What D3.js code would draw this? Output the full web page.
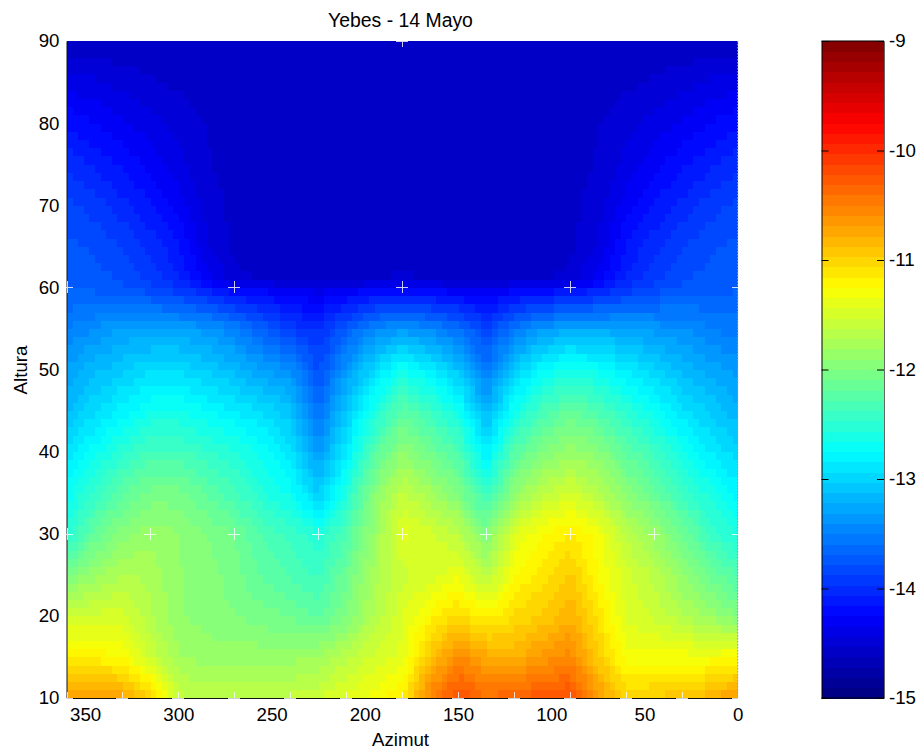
<!DOCTYPE html>
<html><head><meta charset="utf-8">
<script src="https://cdnjs.cloudflare.com/ajax/libs/d3/7.8.5/d3.min.js"></script>
<style>html,body{margin:0;background:#fff}svg{display:block}text{font-family:"Liberation Sans",Arial,sans-serif;fill:#000}</style>
</head><body><div id="chart"></div>
<script>
const titleText = "Yebes - 14 Mayo", xLabel = "Azimut", yLabel = "Altura";
const xTicks = [350,300,250,200,150,100,50,0];
const yTicks = [90,80,70,60,50,40,30,20,10];
const cbTicks = [-9,-10,-11,-12,-13,-14,-15];
const azimuths = [360,345,330,315,300,285,270,255,240,225,210,195,180,165,150,135,120,105,90,75,60,45,30,15,0];
const alt10 = [-10.65,-10.65,-10.7,-11.0,-11.6,-11.65,-11.65,-11.65,-11.6,-11.55,-11.4,-11.3,-11.15,-10.5,-10.2,-10.4,-10.3,-10.25,-10.2,-10.65,-11.0,-10.95,-10.9,-10.8,-10.65];
const alt15 = [-11.15,-11.2,-11.25,-11.55,-11.8,-11.85,-11.85,-11.85,-11.85,-11.8,-11.65,-11.5,-11.4,-10.9,-10.55,-10.75,-10.8,-10.65,-10.55,-10.95,-11.3,-11.3,-11.3,-11.3,-11.25];
const alt20 = [-11.55,-11.5,-11.5,-11.7,-11.9,-11.95,-12.0,-12.05,-12.1,-12.2,-12.0,-11.7,-11.45,-11.2,-11.05,-11.2,-11.05,-10.95,-10.8,-11.1,-11.45,-11.55,-11.7,-11.85,-12.0];
const alt25 = [-12.0,-11.85,-11.7,-11.75,-11.9,-11.95,-12.05,-12.2,-12.3,-12.4,-12.1,-11.75,-11.55,-11.5,-11.35,-11.7,-11.25,-11.1,-10.95,-11.25,-11.5,-11.65,-11.9,-12.1,-12.3];
const alt30 = [-12.55,-12.15,-11.95,-11.85,-11.9,-12.0,-12.1,-12.3,-12.4,-12.55,-12.3,-11.85,-11.4,-11.5,-11.65,-12.0,-11.45,-11.25,-11.15,-11.3,-11.65,-11.85,-12.1,-12.4,-12.6];
const alt35 = [-12.7,-12.45,-12.2,-12.05,-12.05,-12.2,-12.35,-12.55,-12.7,-13.05,-12.55,-11.95,-11.6,-11.8,-12.0,-12.45,-11.9,-11.65,-11.5,-11.7,-11.95,-12.15,-12.4,-12.6,-12.8];
const alt40 = [-12.9,-12.7,-12.5,-12.35,-12.35,-12.45,-12.55,-12.7,-12.9,-13.35,-12.85,-12.25,-11.9,-12.1,-12.3,-12.85,-12.25,-12.0,-11.85,-11.95,-12.2,-12.4,-12.65,-12.85,-13.0];
const alt45 = [-13.15,-12.95,-12.8,-12.65,-12.65,-12.75,-12.85,-12.95,-13.1,-13.6,-13.05,-12.6,-12.2,-12.4,-12.65,-13.2,-12.65,-12.35,-12.15,-12.3,-12.5,-12.7,-12.9,-13.05,-13.2];
const alt50 = [-13.3,-13.15,-13.05,-12.95,-12.95,-13.05,-13.15,-13.3,-13.4,-13.8,-13.35,-12.95,-12.65,-12.85,-13.1,-13.55,-13.05,-12.75,-12.6,-12.7,-12.85,-13.0,-13.15,-13.25,-13.35];
const alt55 = [-13.5,-13.4,-13.3,-13.3,-13.3,-13.35,-13.5,-13.7,-13.9,-14.0,-13.7,-13.45,-13.35,-13.45,-13.6,-13.85,-13.55,-13.35,-13.25,-13.25,-13.3,-13.35,-13.4,-13.5,-13.55];
const alt60 = [-13.7,-13.72,-13.75,-13.85,-13.95,-14.1,-14.25,-14.3,-14.35,-14.4,-14.35,-14.3,-14.25,-14.3,-14.35,-14.4,-14.3,-14.25,-14.25,-14.1,-13.95,-13.85,-13.75,-13.72,-13.7];
const alt61 = [-13.7,-13.74,-13.8,-13.9,-14.05,-14.3,-14.5,-14.55,-14.56,-14.56,-14.56,-14.55,-14.5,-14.55,-14.56,-14.56,-14.56,-14.55,-14.5,-14.3,-14.05,-13.9,-13.8,-13.74,-13.7];
const alt65 = [-13.75,-13.8,-13.88,-14.0,-14.15,-14.42,-14.56,-14.58,-14.58,-14.58,-14.58,-14.58,-14.58,-14.58,-14.58,-14.58,-14.58,-14.58,-14.56,-14.42,-14.15,-14.0,-13.88,-13.8,-13.75];
const alt70 = [-13.85,-13.92,-14.03,-14.15,-14.3,-14.48,-14.57,-14.58,-14.58,-14.58,-14.58,-14.58,-14.58,-14.58,-14.58,-14.58,-14.58,-14.58,-14.57,-14.48,-14.3,-14.15,-14.03,-13.92,-13.85];
const alt75 = [-14.0,-14.08,-14.18,-14.28,-14.4,-14.52,-14.57,-14.58,-14.58,-14.58,-14.58,-14.58,-14.58,-14.58,-14.58,-14.58,-14.58,-14.58,-14.57,-14.52,-14.4,-14.28,-14.18,-14.08,-14.0];
const alt80 = [-14.18,-14.25,-14.33,-14.4,-14.47,-14.54,-14.57,-14.58,-14.58,-14.58,-14.58,-14.58,-14.58,-14.58,-14.58,-14.58,-14.58,-14.58,-14.57,-14.54,-14.47,-14.4,-14.33,-14.25,-14.18];
const alt85 = [-14.38,-14.42,-14.47,-14.52,-14.55,-14.57,-14.58,-14.58,-14.58,-14.58,-14.58,-14.58,-14.58,-14.58,-14.58,-14.58,-14.58,-14.58,-14.58,-14.57,-14.55,-14.52,-14.47,-14.42,-14.38];
const alt90 = [-14.62,-14.62,-14.61,-14.6,-14.6,-14.59,-14.58,-14.58,-14.58,-14.58,-14.58,-14.58,-14.58,-14.58,-14.58,-14.58,-14.58,-14.58,-14.58,-14.59,-14.6,-14.6,-14.61,-14.62,-14.62];
const altitudes = [10,15,20,25,30,35,40,45,50,55,60,61,65,70,75,80,85,90];
const rows = [alt10,alt15,alt20,alt25,alt30,alt35,alt40,alt45,alt50,alt55,alt60,alt61,alt65,alt70,alt75,alt80,alt85,alt90];
const samplesAlt10 = [360,330,300,270,240,210,180,150,120,90,60,30,0];
const samplesAlt30 = [360,315,270,225,180,135,90,45,0];
const samplesAlt60 = [360,270,180,90,0];
const samplesAlt90 = [180];
const shadeAz = d3.range(0,120).map(i=>i*3), shadeAlt = d3.range(10,90);

const W=919,H=749,m={l:66.5,r:737.7,t:41,b:698},cb={l:821.5,r:884};
const svg=d3.select("#chart").append("svg").attr("width",W).attr("height",H);
const x=d3.scaleLinear().domain([360,0]).range([m.l,m.r]);
const y=d3.scaleLinear().domain([10,90]).range([m.b,m.t]);
const c=d3.scaleLinear().domain([-15,-9]).range([m.b,m.t]);
const ramp=v=>Math.max(0,Math.min(1,v));
const jet=t=>d3.rgb(255*ramp(1.5-Math.abs(4*t-3)),255*ramp(1.5-Math.abs(4*t-2)),255*ramp(1.5-Math.abs(4*t-1))).formatHex();
const levels=d3.range(64);
const palette=levels.map(i=>jet((i+0.5)/64));
const colour=d3.scaleQuantize().domain([-15,-9]).range(palette);
function sample(az,alt){
  const azAsc=azimuths.slice().reverse();
  let i=Math.min(azAsc.length-2,d3.bisectRight(azAsc,az)-1), j=Math.min(altitudes.length-2,d3.bisectRight(altitudes,alt)-1);
  const fx=(az-azAsc[i])/(azAsc[i+1]-azAsc[i]), fy=(alt-altitudes[j])/(altitudes[j+1]-altitudes[j]);
  const ci=azimuths.length-1-i, cn=ci-1;
  const a=d3.interpolateNumber(rows[j][ci],rows[j][cn])(fx), b=d3.interpolateNumber(rows[j+1][ci],rows[j+1][cn])(fx);
  return a+(b-a)*fy;
}
const cells=shadeAlt.flatMap(alt=>shadeAz.map(az=>({az,alt})));
svg.append("g").attr("shape-rendering","crispEdges").selectAll("rect").data(cells).join("rect")
  .attr("x",d=>x(d.az+3)).attr("y",d=>y(d.alt+1))
  .attr("width",d=>x(d.az)-x(d.az+3)+0.5).attr("height",d=>y(d.alt)-y(d.alt+1)+0.5)
  .attr("fill",d=>colour(sample(d.az+1.5,d.alt+0.5)));

// axes
const ax=svg.append("g").attr("transform",`translate(0,${m.b})`).call(d3.axisBottom(x).tickValues(xTicks).tickSize(0).tickPadding(8));
ax.select(".domain").attr("stroke","#111");
ax.selectAll("text").attr("font-size",18.7).attr("dy","0.82em");
const ay=svg.append("g").attr("transform",`translate(${m.l},0)`).call(d3.axisLeft(y).tickValues(yTicks).tickSize(0).tickPadding(7));
ay.select(".domain").attr("stroke","#111");
ay.selectAll("text").attr("font-size",18.7);
svg.append("line").attr("x1",m.r).attr("x2",m.r).attr("y1",m.t).attr("y2",m.b).attr("stroke","#999").attr("stroke-dasharray","1.5,1.5");

// sample marks
const marks=[[10,samplesAlt10],[30,samplesAlt30],[60,samplesAlt60],[90,samplesAlt90]].flatMap(([alt,list])=>list.map(az=>({az,alt})));
const mk=svg.append("g").attr("stroke","#fff").attr("stroke-opacity",0.8).attr("shape-rendering","crispEdges");
mk.selectAll("path").data(marks).join("path")
  .attr("d",d=>{const px=Math.round(x(d.az)),py=Math.round(y(d.alt));return `M${px-6},${py}H${px+6}M${px},${py-6}V${py+6}`});

// colour bar
const cbBand=d3.scaleBand().domain(levels).range([m.b,m.t]);
svg.append("g").attr("shape-rendering","crispEdges").selectAll("rect").data(levels).join("rect")
  .attr("x",cb.l).attr("width",cb.r-cb.l).attr("y",d=>cbBand(d)).attr("height",cbBand.bandwidth()+0.5).attr("fill",d=>palette[d]);
const cr=svg.append("g").attr("transform",`translate(${cb.r},0)`).call(d3.axisRight(c).tickValues(cbTicks).tickSize(-7).tickPadding(12).tickFormat(d=>String(d)));
cr.select(".domain").attr("stroke","#666");
cr.selectAll("text").attr("font-size",18.7).attr("x",5);
const cl=svg.append("g").attr("transform",`translate(${cb.l},0)`).call(d3.axisLeft(c).tickValues(cbTicks).tickSize(-7).tickFormat(""));
cl.select(".domain").attr("stroke","#000");
svg.append("line").attr("x1",cb.l).attr("x2",cb.r).attr("y1",m.b).attr("y2",m.b).attr("stroke","#000");
svg.append("line").attr("x1",cb.l).attr("x2",cb.r).attr("y1",m.t).attr("y2",m.t).attr("stroke","#000");

// titles
svg.append("text").attr("x",400.5).attr("y",26.5).attr("text-anchor","middle").attr("font-size",19.4).text(titleText);
svg.append("text").attr("x",400.5).attr("y",746).attr("text-anchor","middle").attr("font-size",18.7).text(xLabel);
svg.append("text").attr("transform","translate(27,370) rotate(-90)").attr("text-anchor","middle").attr("font-size",18.7).text(yLabel);
</script></body></html>
